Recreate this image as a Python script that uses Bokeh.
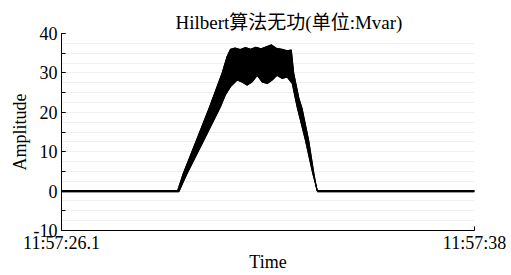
from bokeh.plotting import figure
from bokeh.models import Range1d, FixedTicker, SingleIntervalTicker
from bokeh.embed import file_html
from bokeh.resources import INLINE

# ---- data (seconds after 11:57:00) ----
# upper envelope of the oscillating signal
upper_time = [26.1, 29.45, 29.61, 29.99, 30.37, 30.73, 30.87, 30.97, 31.1,
              31.25, 31.4, 31.55, 31.7, 31.85, 32.0, 32.15, 32.3, 32.45,
              32.6, 32.72, 32.79, 32.94, 33.03, 33.22, 33.37, 33.46, 38.0]
upper = [0.15, 0.15, 4.5, 12.9, 21.4, 30.0, 34.1, 36.0, 36.3,
         35.9, 36.4, 36.0, 36.5, 36.1, 36.6, 37.1, 36.2, 36.0,
         35.6, 35.8, 29.9, 23.5, 21.0, 12.9, 4.5, 0.15, 0.15]
# lower envelope of the oscillating signal
lower_time = [26.1, 29.48, 29.72, 30.20, 30.68, 30.82, 30.97, 31.06, 31.16,
              31.3, 31.45, 31.59, 31.74, 31.88, 32.03, 32.17, 32.31, 32.46,
              32.6, 32.75, 32.89, 33.13, 33.34, 33.48, 38.0]
lower = [-0.15, -0.15, 4.5, 12.9, 21.4, 24.4, 26.5, 27.3, 28.2,
         27.7, 26.9, 27.7, 29.4, 27.7, 27.3, 28.2, 29.4, 28.6,
         29.0, 27.3, 21.4, 12.9, 4.5, -0.15, -0.15]
x_ticks = [26.1, 38.0]
x_tick_labels = ["11:57:26.1", "11:57:38"]
y_tick_labels = {-10: "-10", 0: "0", 10: "10", 20: "20", 30: "30", 40: "40"}

SERIF = "Liberation Serif, Noto Sans CJK SC"

p = figure(width=511, height=275, output_backend="svg", toolbar_location=None,
           x_range=Range1d(26.1, 38.0), y_range=Range1d(-10, 40),
           title="Hilbert算法无功(单位:Mvar)",
           x_axis_label="Time", y_axis_label="Amplitude",
           min_border_left=61, min_border_right=37,
           min_border_top=33, min_border_bottom=45)
p.outline_line_color = None
p.background_fill_color = "white"
p.border_fill_color = "white"

p.title.text_font = SERIF
p.title.text_font_size = "19px"
p.title.text_font_style = "normal"
p.title.text_color = "black"
p.title.align = "left"
p.title.offset = 114
p.title.standoff = 2

# filled band between the envelopes, plus its edges
band_x = upper_time + lower_time[::-1]
band_y = upper + lower[::-1]
p.patch(band_x, band_y, fill_color="black", line_color="black", line_width=1)
p.line(upper_time, upper, line_color="black", line_width=1.2)
p.line(lower_time, lower, line_color="black", line_width=1.2)

# axes
xa = p.xaxis[0]
xa.ticker = FixedTicker(ticks=x_ticks, minor_ticks=[])
xa.major_label_overrides = {t: l for t, l in zip(x_ticks, x_tick_labels)}
ya = p.yaxis[0]
ya.ticker = SingleIntervalTicker(interval=10, num_minor_ticks=2)
ya.major_label_overrides = y_tick_labels
for ax in (xa, ya):
    ax.axis_line_color = "black"
    ax.major_tick_line_color = "black"
    ax.minor_tick_line_color = "black"
    ax.major_tick_in = 4
    ax.major_tick_out = 0
    ax.minor_tick_in = 4
    ax.minor_tick_out = 0
    ax.major_label_text_font = SERIF
    ax.major_label_text_font_size = "18px"
    ax.major_label_text_color = "black"
    ax.axis_label_text_font = SERIF
    ax.axis_label_text_font_size = "18px"
    ax.axis_label_text_font_style = "normal"
    ax.axis_label_text_color = "black"
xa.major_label_standoff = 2
xa.axis_label_standoff = -4
ya.major_label_standoff = 4
ya.axis_label_standoff = 1

p.xgrid.grid_line_color = None
p.ygrid.ticker = SingleIntervalTicker(interval=2.5)
p.ygrid.grid_line_color = "#efefef"
p.ygrid.grid_line_width = 1

open("out.html", "w").write(file_html(p, INLINE))
